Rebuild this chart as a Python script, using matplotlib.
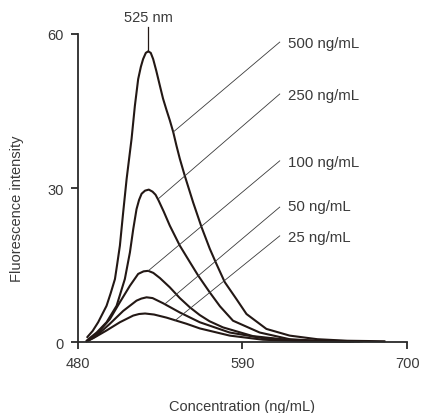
import matplotlib
matplotlib.use("Agg")
import matplotlib.pyplot as plt

plt.rcParams['font.family'] = ['Liberation Sans', 'DejaVu Sans']

# ---- data ----
x500 = [486.4, 490.0, 493.7, 499.3, 502.0, 504.9, 506.5, 508.2, 510.4, 512.7, 516.0, 518.2,
        520.4, 522.2, 523.7, 525.5, 527.1, 528.8, 530.4, 532.5, 534.9, 537.0, 539.3, 541.5,
        543.8, 546.0, 548.2, 551.5, 557.1, 562.7, 568.2, 572.7, 578.2, 586.0, 592.7, 606.0,
        621.5, 640.0, 660.0, 685.0]
y500 = [1.0, 2.2, 3.9, 7.1, 9.5, 12.3, 15.4, 18.8, 25.3, 31.8, 39.6, 46.0,
        51.2, 53.6, 55.1, 56.3, 56.6, 56.3, 55.1, 52.8, 49.9, 47.4, 45.2, 43.2,
        40.9, 38.2, 35.7, 32.4, 27.2, 22.4, 18.2, 15.2, 11.7, 8.4, 5.5, 2.6,
        1.3, 0.6, 0.3, 0.2]

x250 = [486.0, 487.1, 492.7, 499.3, 506.0, 511.5, 514.9, 517.1, 519.3, 521.0, 522.7, 525.0,
        527.5, 530.0, 532.0, 534.0, 537.5, 541.5, 548.2, 554.9, 560.4, 568.2, 575.0, 583.7,
        601.5, 621.5, 640.0, 670.0]
y250 = [0.3, 0.6, 1.9, 3.9, 7.1, 12.3, 17.5, 22.0, 25.9, 27.7, 28.9, 29.5,
        29.7, 29.3, 28.7, 27.6, 25.4, 22.7, 18.8, 15.6, 13.0, 9.7, 7.0, 4.2,
        1.9, 0.6, 0.3, 0.2]

x100 = [486.0, 488.2, 493.7, 501.5, 508.2, 514.9, 520.4, 524.0, 527.1, 530.5, 534.9, 541.5,
        548.2, 554.9, 561.5, 568.0, 577.0, 597.0, 619.3, 640.0, 668.0]
y100 = [0.2, 0.6, 1.9, 4.5, 7.8, 11.0, 13.3, 13.8, 13.9, 13.5, 12.5, 10.7,
        8.6, 6.8, 5.3, 4.1, 2.9, 1.2, 0.5, 0.25, 0.15]

x50 = [486.0, 488.2, 492.7, 501.5, 510.4, 519.3, 522.5, 526.0, 530.0, 537.0, 548.2, 561.5,
       581.5, 603.7, 630.0, 664.0]
y50 = [0.2, 0.5, 1.3, 3.6, 6.1, 8.1, 8.5, 8.75, 8.6, 7.6, 5.8, 3.9,
       1.9, 0.8, 0.3, 0.15]

x25 = [486.0, 490.4, 499.3, 508.2, 517.1, 521.0, 525.0, 531.0, 539.3, 552.7, 561.5, 581.5,
       603.7, 630.0, 662.0]
y25 = [0.2, 0.8, 2.3, 3.9, 5.2, 5.5, 5.6, 5.4, 4.8, 3.6, 2.7, 1.3,
       0.5, 0.2, 0.12]

labels = ["500 ng/mL", "250 ng/mL", "100 ng/mL", "50 ng/mL", "25 ng/mL"]
leader_start = [(543.8, 40.9), (533.8, 27.9), (527.1, 13.9), (538.2, 7.45), (544.9, 4.2)]
leader_end_y = [58.4, 48.3, 35.3, 26.3, 20.7]
label_y = [58.2, 48.1, 35.1, 26.5, 20.4]

xticks = [480, 590, 700]
yticks = [0, 30, 60]
peak_label = "525 nm"
peak_x = 527.1
peak_y = 56.7

# ---- drawing ----
curve_c = '#231815'
text_c = '#3a3a3a'
fs = 10.5

fig = plt.figure(figsize=(4.22, 4.14), dpi=100)
ax = fig.add_axes([0.184, 0.1708, 0.781, 0.745])

for xs, ys in [(x500, y500), (x250, y250), (x100, y100), (x50, y50), (x25, y25)]:
    ax.plot(xs, ys, color=curve_c, lw=1.5, solid_joinstyle='round',
            solid_capstyle='round', clip_on=False)

leader_end_x = 614.9
label_x = 620.4
for (sx, sy), ey, ly, lab in zip(leader_start, leader_end_y, label_y, labels):
    ax.plot([sx, leader_end_x], [sy, ey], color='#3a3a3a', lw=0.6, clip_on=False)
    ax.text(label_x, ly, lab, ha='left', va='center', fontsize=10.8, color=text_c)

ax.plot([peak_x, peak_x], [peak_y, 61.3], color=curve_c, lw=0.9, clip_on=False)
ax.text(peak_x, 63.2, peak_label, ha='center', va='center', fontsize=fs, color=text_c,
        clip_on=False)

ax.set_xlim(480, 700)
ax.set_ylim(0, 60)
ax.set_xticks(xticks)
ax.set_yticks(yticks)
for s in ['top', 'right']:
    ax.spines[s].set_visible(False)
for s in ['left', 'bottom']:
    ax.spines[s].set_linewidth(1.3)
    ax.spines[s].set_color('#2a2a2a')
ax.tick_params(direction='out', length=5, width=1.3, color='#2a2a2a',
               labelsize=fs, labelcolor=text_c)
ax.tick_params(axis='x', pad=5)
ax.tick_params(axis='y', pad=5)

ax.set_xlabel("Concentration (ng/mL)", fontsize=fs, color=text_c, va='center')
ax.xaxis.set_label_coords(0.498, -0.2055)
ax.set_ylabel("Fluorescence intensity", fontsize=fs, color=text_c, va='center')
ax.yaxis.set_label_coords(-0.184, 0.435)

fig.savefig("out.png", dpi=100)
